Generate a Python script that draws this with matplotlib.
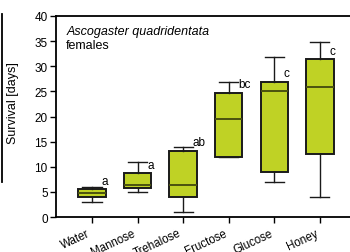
import matplotlib
matplotlib.use("Agg")
import matplotlib.pyplot as plt
from matplotlib.lines import Line2D

# values (days)
treatments = ["Water", "Mannose", "Trehalose", "Fructose", "Glucose", "Honey"]
whisker_low = [3.0, 5.0, 1.0, 12.0, 7.0, 4.0]
q1 = [4.0, 5.7, 3.9, 12.0, 9.0, 12.5]
median = [4.7, 6.4, 6.4, 19.5, 25.0, 25.9]
q3 = [5.5, 8.7, 13.2, 24.7, 26.9, 31.4]
whisker_high = [6.0, 11.0, 13.9, 26.9, 31.9, 34.9]
letters = ["a", "a", "ab", "bc", "c", "c"]

plt.rcParams["font.family"] = ["Liberation Sans", "DejaVu Sans"]

fig = plt.figure(figsize=(3.5, 2.53), dpi=100)
ax = fig.add_axes([0.16, 0.138, 0.84, 0.795])

stats = []
for i, name in enumerate(treatments):
    stats.append({
        "label": name,
        "whislo": whisker_low[i],
        "q1": q1[i],
        "med": median[i],
        "q3": q3[i],
        "whishi": whisker_high[i],
        "fliers": [],
    })

positions = list(range(1, len(treatments) + 1))
ax.bxp(
    stats,
    positions=positions,
    widths=0.6,
    patch_artist=True,
    showfliers=False,
    boxprops=dict(facecolor="#bfd225", edgecolor="#1a1a1a", linewidth=1.4),
    medianprops=dict(color="#4a520f", linewidth=1.4),
    whiskerprops=dict(color="#1a1a1a", linewidth=1.0),
    capprops=dict(color="#1a1a1a", linewidth=1.0),
    capwidths=0.42,
)

for pos, top, lab in zip(positions, q3, letters):
    ax.text(pos + 0.21, top + 0.5, lab, fontsize=8.5, ha="left", va="bottom")

ax.text(0.035, 0.955, "Ascogaster quadridentata", transform=ax.transAxes,
        fontsize=9, style="italic", va="top")
ax.text(0.035, 0.885, "females", transform=ax.transAxes, fontsize=9, va="top")

ax.set_xlim(0.21, 6.66)
ax.set_ylim(0, 40)
ax.set_yticks(range(0, 41, 5))
ax.set_xticks(positions)
ax.set_xticklabels(treatments, rotation=25, ha="right", fontsize=8.3)
ax.tick_params(axis="y", labelsize=8.5, length=4, width=1.0, pad=2)
ax.tick_params(axis="x", length=4, width=1.0, pad=3)

ax.set_ylabel("Survival [days]", fontsize=9)
ax.yaxis.set_label_coords(-0.125, 0.57)

for side in ["left", "bottom", "top"]:
    ax.spines[side].set_linewidth(1.3)
ax.spines["right"].set_visible(False)

# edge of the neighbouring panel on the left
fig.add_artist(Line2D([0.006, 0.006], [1 - 15 / 253, 1 - 183 / 253],
                      transform=fig.transFigure, color="black", linewidth=1.3))

fig.savefig("out.png", dpi=100)
